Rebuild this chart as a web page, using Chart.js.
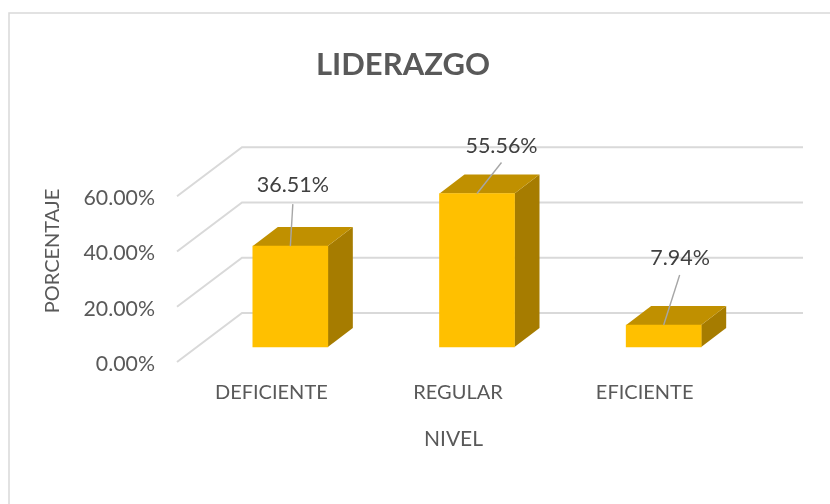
<!DOCTYPE html>
<html><head><meta charset="utf-8">
<style>html,body{margin:0;padding:0;background:#fff}#w{position:relative;width:830px;height:504px}</style>
<script src="https://cdn.jsdelivr.net/npm/chart.js@4"></script>
</head><body><div id="w"><canvas id="c" width="830" height="504"></canvas></div>
<script>
const categories = ['DEFICIENTE','REGULAR','EFICIENTE'];
const seriesName = 'LIDERAZGO';
const values = [36.51,55.56,7.94];
const yTicks = [0,20,40,60];
const chartTitle = 'LIDERAZGO';
const xTitle = 'NIVEL';
const yTitle = 'PORCENTAJE';

const FONT = 'Lato, Carlito, Calibri, sans-serif';
const fmt = v => v.toFixed(2) + '%';
const labelShift = [[2.5,-61.5],[24.5,-47],[16.5,-67]];
const leaderStart = [[2.5,-42],[24.5,-31],[16,-50]];

const threeD = {
  id:'threeD',
  afterLayout(chart){
    const t = chart.titleBlock; if(t){ t.left += 24.5; t.right += 24.5; }
  },
  beforeDatasetsDraw(chart){
    const {ctx, scales:{y}} = chart;
    ctx.save();
    ctx.strokeStyle='#D9D9D9'; ctx.lineWidth=2;
    yTicks.forEach(v=>{
      const py=y.getPixelForValue(v)-2;
      ctx.beginPath(); ctx.moveTo(177,py); ctx.lineTo(242,py-49); ctx.lineTo(803,py-49); ctx.stroke();
    });
    ctx.restore();
    const meta=chart.getDatasetMeta(0);
    ctx.save();
    meta.data.forEach(b=>{
      const l=b.x-b.width/2,r=b.x+b.width/2,t=b.y-17,bo=b.base-17,dx=25,dy=19;
      ctx.fillStyle='#A67C00';
      ctx.beginPath(); ctx.moveTo(r,t); ctx.lineTo(r+dx,t-dy); ctx.lineTo(r+dx,bo-dy); ctx.lineTo(r,bo); ctx.closePath(); ctx.fill();
      ctx.fillStyle='#C09000';
      ctx.beginPath(); ctx.moveTo(l,t); ctx.lineTo(l+dx,t-dy); ctx.lineTo(r+dx,t-dy); ctx.lineTo(r,t); ctx.closePath(); ctx.fill();
    });
    ctx.restore();
    ctx.save(); ctx.translate(0,-17);
  },
  afterDatasetsDraw(chart){
    const {ctx}=chart;
    ctx.restore();
    const meta=chart.getDatasetMeta(0);
    ctx.save();
    meta.data.forEach((b,i)=>{
      const t=b.y-17;
      ctx.strokeStyle='#A6A6A6'; ctx.lineWidth=1.4;
      ctx.beginPath(); ctx.moveTo(b.x+leaderStart[i][0],t+leaderStart[i][1]); ctx.lineTo(b.x,t); ctx.stroke();
      ctx.fillStyle='#404040'; ctx.font='21.5px '+FONT; ctx.textAlign='center'; ctx.textBaseline='middle';
      ctx.fillText(fmt(values[i]),b.x+labelShift[i][0],t+labelShift[i][1]);
    });
    ctx.restore();
  },
  afterDraw(chart){
    const {ctx}=chart;
    ctx.save();
    ctx.strokeStyle='#D9D9D9'; ctx.lineWidth=1.5;
    ctx.beginPath(); ctx.moveTo(9,504); ctx.lineTo(9,13); ctx.lineTo(830,13); ctx.stroke();
    ctx.fillStyle='#595959'; ctx.textAlign='center'; ctx.textBaseline='middle';
    ctx.font='21px '+FONT;
    ctx.fillText(xTitle,453.5,439);
    ctx.font='20px '+FONT;
    ctx.translate(53,251); ctx.rotate(-Math.PI/2); ctx.fillText(yTitle,0,0);
    ctx.restore();
  }
};

new Chart(document.getElementById('c'),{
  type:'bar',
  data:{labels:categories,datasets:[{label:seriesName,data:values,backgroundColor:'#FFC000',borderWidth:0,barThickness:75,clip:false}]},
  options:{
    responsive:false,animation:false,devicePixelRatio:1,
    layout:{padding:{left:0,right:73,top:0,bottom:0}},
    plugins:{
      legend:{display:false},tooltip:{enabled:false},
      title:{display:true,text:chartTitle,color:'#595959',font:{family:FONT,size:31,weight:'bold'},padding:{top:46,bottom:115}}
    },
    scales:{
      x:{offset:true,grid:{display:false,drawTicks:false},border:{display:false},
        ticks:{color:'#595959',font:{family:FONT,size:20},labelOffset:-19,padding:17,maxRotation:0,autoSkip:false},
        afterFit(s){s.height=140;}},
      y:{min:0,max:60,grid:{display:false,drawTicks:false},border:{display:false},
        afterBuildTicks(s){s.ticks=yTicks.map(v=>({value:v}));},
        ticks:{color:'#595959',font:{family:FONT,size:21.3},padding:42,callback:v=>fmt(v)},
        afterFit(s){s.width=197;}}
    }
  },
  plugins:[threeD]
});
</script></body></html>
